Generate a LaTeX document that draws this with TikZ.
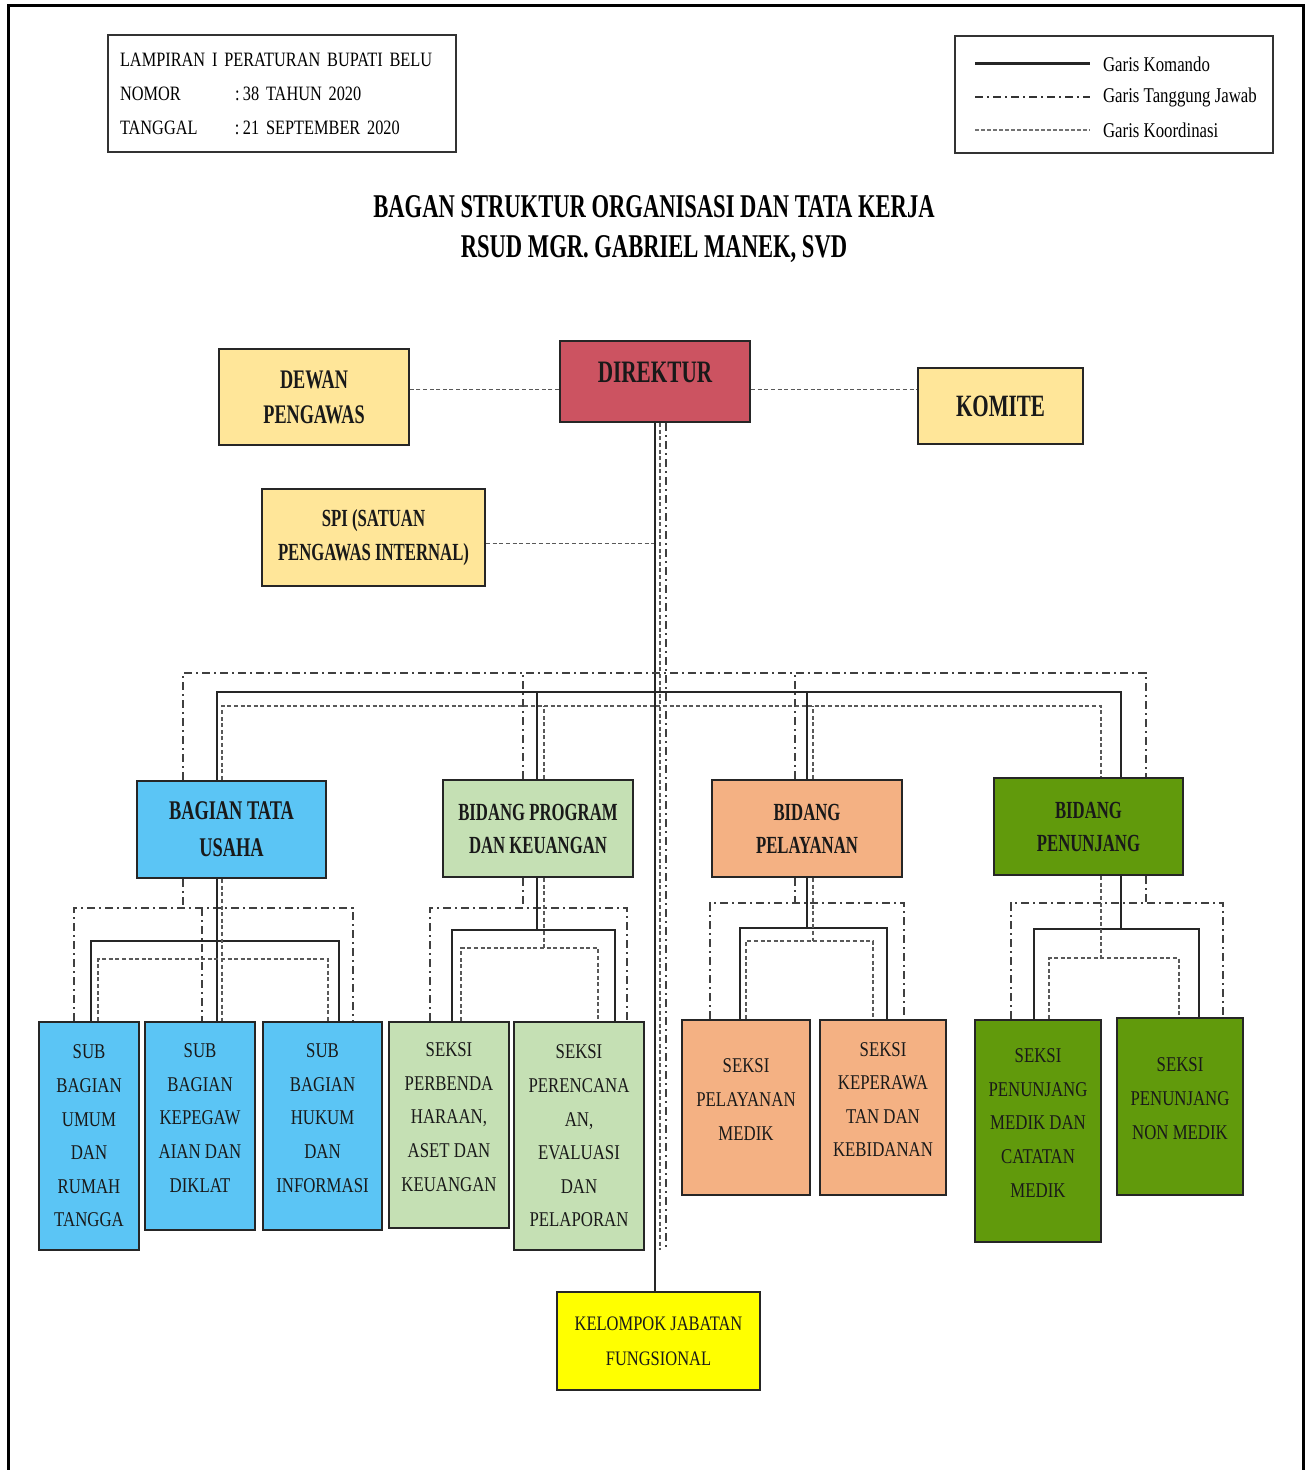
\documentclass[tikz,border=0pt]{standalone}
\usepackage{fontspec}
\setmainfont[FakeStretch=0.8]{Liberation Serif}
\newfontfamily\judul[FakeStretch=0.68]{Liberation Serif}
\usetikzlibrary{calc}

\definecolor{kuning}{HTML}{FFE699}
\definecolor{merah}{HTML}{CC5361}
\definecolor{biru}{HTML}{5BC5F5}
\definecolor{hijaumuda}{HTML}{C5E0B4}
\definecolor{salem}{HTML}{F4B183}
\definecolor{hijautua}{HTML}{619A0C}
\definecolor{kuningterang}{HTML}{FFFF00}

\begin{document}
\begin{tikzpicture}[x=0.5pt, y=-0.5pt,
    kotak/.style={draw=black!85, line width=1.1pt, align=center, inner sep=1pt, text=black!90},
    induk/.style={kotak, font=\judul\bfseries\fontsize{12.3}{16.5}\selectfont, minimum width=95pt, minimum height=48.5pt},
    anak/.style={kotak, font=\fontsize{10.5}{16.8}\selectfont},
    komando/.style={line width=1.2pt, black!85},
    tj/.style={line width=0.85pt, black!75, dash pattern=on 4pt off 2pt on 1pt off 2pt},
    koord/.style={line width=0.8pt, black!65, dash pattern=on 2pt off 1.3pt}]
    \useasboundingbox (0,0) rectangle (1310,1470);

    % bingkai
    \draw[line width=1.5pt] (8,1470) -- (8,6) -- (1303,6) -- (1303,1470);

    % lampiran
    \node[draw=black!80, line width=0.8pt, text width=162pt, align=left, inner sep=6pt,
          minimum height=58.5pt, font=\fontsize{10.2}{17}\selectfont] (lampiran) at (282,93.5)
        {LAMPIRAN I PERATURAN BUPATI BELU\\
         \makebox[57.5pt][l]{NOMOR}:\,38 TAHUN 2020\\
         \makebox[57.5pt][l]{TANGGAL}:\,21 SEPTEMBER 2020};

    % keterangan garis
    \node[draw=black!80, line width=0.8pt, minimum width=159pt, minimum height=58.5pt] (legenda) at (1114,94.5) {};
    \draw[line width=1.5pt, black!85] (975,64) -- (1090,64);
    \draw[line width=1.3pt, black!80, dash pattern=on 4pt off 2pt on 1pt off 2pt] (975,97) -- (1090,97);
    \draw[line width=0.7pt, black!55, dash pattern=on 1.8pt off 1.2pt] (975,130) -- (1090,130);
    \node[anchor=west, font=\fontsize{10.5}{12}\selectfont] (ket1) at (1096,64) {Garis Komando};
    \node[anchor=west, font=\fontsize{10.5}{12}\selectfont] (ket2) at (1096,97) {Garis Tanggung Jawab};
    \node[anchor=west, font=\fontsize{10.5}{12}\selectfont] (ket3) at (1096,130) {Garis Koordinasi};

    % judul
    \node[font=\judul\bfseries\fontsize{16.6}{20}\selectfont] (judul1) at (654,207) {BAGAN STRUKTUR ORGANISASI DAN TATA KERJA};
    \node[font=\judul\bfseries\fontsize{16.6}{20}\selectfont] (judul2) at (654,249) {RSUD MGR. GABRIEL MANEK, SVD};

    % pimpinan
    \node[induk, fill=merah, minimum height=40.5pt, text depth=9pt, font=\judul\bfseries\fontsize{15.6}{18}\selectfont] (direktur) at (655,381.5) {DIREKTUR};
    \node[induk, fill=kuning, minimum height=48pt, font=\judul\bfseries\fontsize{13.4}{17.5}\selectfont] (dewan) at (314,397) {DEWAN\\PENGAWAS};
    \node[induk, fill=kuning, minimum width=82.5pt, minimum height=38pt, font=\judul\bfseries\fontsize{15.5}{18}\selectfont] (komite) at (1000.5,406) {KOMITE};
    \node[induk, fill=kuning, minimum width=111.5pt, font=\judul\bfseries\fontsize{12.3}{17}\selectfont] (spi) at (373.5,537.5) {SPI (SATUAN\\PENGAWAS INTERNAL)};

    % bagian dan bidang
    \node[induk, fill=biru, minimum width=94.5pt, font=\judul\bfseries\fontsize{13.5}{18.5}\selectfont] (btu) at (231.5,829.5) {BAGIAN TATA\\USAHA};
    \node[induk, fill=hijaumuda] (bpk) at (538,828.5) {BIDANG PROGRAM\\DAN KEUANGAN};
    \node[induk, fill=salem] (bp) at (807,828.5) {BIDANG\\PELAYANAN};
    \node[induk, fill=hijautua, minimum width=94.5pt] (bpn) at (1088.5,826.5) {BIDANG\\PENUNJANG};

    % sub bagian dan seksi
    \node[anak, fill=biru, minimum width=50pt, minimum height=114pt] (sub1) at (89,1136) {SUB\\BAGIAN\\UMUM\\DAN\\RUMAH\\TANGGA};
    \node[anak, fill=biru, minimum width=55pt, minimum height=104pt, text depth=8pt] (sub2) at (200,1126) {SUB\\BAGIAN\\KEPEGAW\\AIAN DAN\\DIKLAT};
    \node[anak, fill=biru, minimum width=59.5pt, minimum height=104pt, text depth=8pt] (sub3) at (322.5,1126) {SUB\\BAGIAN\\HUKUM\\DAN\\INFORMASI};
    \node[anak, fill=hijaumuda, minimum width=60pt, minimum height=103pt, text depth=8pt] (s4) at (449,1125) {SEKSI\\PERBENDA\\HARAAN,\\ASET DAN\\KEUANGAN};
    \node[anak, fill=hijaumuda, minimum width=65pt, minimum height=114pt] (s5) at (579,1136) {SEKSI\\PERENCANA\\AN,\\EVALUASI\\DAN\\PELAPORAN};
    \node[anak, fill=salem, minimum width=64pt, minimum height=87.5pt, text depth=8pt] (s6) at (746,1107.5) {SEKSI\\PELAYANAN\\MEDIK};
    \node[anak, fill=salem, minimum width=63pt, minimum height=87.5pt, text depth=8pt] (s7) at (883,1107.5) {SEKSI\\KEPERAWA\\TAN DAN\\KEBIDANAN};
    \node[anak, fill=hijautua, minimum width=63pt, minimum height=111pt, text depth=8pt] (s8) at (1038,1131) {SEKSI\\PENUNJANG\\MEDIK DAN\\CATATAN\\MEDIK};
    \node[anak, fill=hijautua, minimum width=63pt, minimum height=88.5pt, text depth=8pt] (s9) at (1180,1106.5) {SEKSI\\PENUNJANG\\NON MEDIK};

    % fungsional
    \node[anak, fill=kuningterang, minimum width=101.5pt, minimum height=49pt, font=\fontsize{10.3}{17.5}\selectfont] (kjf) at (658.5,1341) {KELOMPOK JABATAN\\FUNGSIONAL};

    \coordinate (busT) at (0,673);
    \coordinate (busK) at (0,692);
    \coordinate (busO) at (0,706);
    \coordinate (ujungO) at (660,1250);
    \coordinate (ujungT) at (666,1250);

    % garis koordinasi pimpinan
    \draw[koord] ([yshift=-4pt]direktur.west) -- ([yshift=-4pt]direktur.west -| dewan.east);
    \draw[koord] ([yshift=-4pt]direktur.east) -- ([yshift=-4pt]direktur.east -| komite.west);
    \draw[koord] ([yshift=-3pt]spi.east) -- ([yshift=-3pt]spi.east -| direktur.south);

    % garis utama
    \draw[komando] (direktur.south) -- (direktur.south |- kjf.north);
    \draw[koord] (direktur.south -| ujungO) -- (ujungO);
    \draw[tj] (direktur.south -| ujungT) -- (ujungT);

    % ke bagian dan bidang
    \draw[tj] (btu.north -| 183,0) |- (busT -| 1146,0) -- (bpn.north -| 1146,0);
    \draw[komando] (btu.north -| 217,0) |- (busK -| 1121,0) -- (bpn.north -| 1121,0);
    \draw[koord] (btu.north -| 222,0) |- (busO -| 1101,0) -- (bpn.north -| 1101,0);
    \foreach \n/\a/\b/\c in {bpk/523/537/544, bp/795/807/813} {
        \draw[tj] (\n.north -| \a,0) -- (busT -| \a,0);
        \draw[komando] (\n.north -| \b,0) -- (busK -| \b,0);
        \draw[koord] (\n.north -| \c,0) -- (busO -| \c,0);
    }

    % bagian tata usaha ke sub bagian
    \draw[tj] (sub1.north -| 74,0) |- (353,908) -- (sub3.north -| 353,0);
    \draw[tj] (btu.south -| 183,0) -- (183,908);
    \draw[tj] (202,908) -- (sub2.north -| 202,0);
    \draw[komando] (sub1.north -| 91,0) |- (339,941) -- (sub3.north -| 339,0);
    \draw[komando] (btu.south -| 217,0) -- (sub2.north -| 217,0);
    \draw[koord] (sub1.north -| 98,0) |- (328,959) -- (sub3.north -| 328,0);
    \draw[koord] (btu.south -| 222,0) -- (sub2.north -| 222,0);

    % bidang ke seksi
    \foreach \p/\a/\b/\xa/\xb/\xp/\y in {bpk/s4/s5/430/627/523/908, bp/s6/s7/710/904/795/903, bpn/s8/s9/1011/1223/1146/903}
        \draw[tj] (\a.north -| \xa,0) |- (\xb,\y) -- (\b.north -| \xb,0) (\p.south -| \xp,0) -- (\xp,\y);
    \foreach \p/\a/\b/\xa/\xb/\xp/\y in {bpk/s4/s5/452/615/537/930, bp/s6/s7/740/887/807/928, bpn/s8/s9/1034/1199/1121/929}
        \draw[komando] (\a.north -| \xa,0) |- (\xb,\y) -- (\b.north -| \xb,0) (\p.south -| \xp,0) -- (\xp,\y);
    \foreach \p/\a/\b/\xa/\xb/\xp/\y in {bpk/s4/s5/461/598/544/948, bp/s6/s7/746/873/813/941, bpn/s8/s9/1049/1179/1101/958}
        \draw[koord] (\a.north -| \xa,0) |- (\xb,\y) -- (\b.north -| \xb,0) (\p.south -| \xp,0) -- (\xp,\y);
\end{tikzpicture}
\end{document}
